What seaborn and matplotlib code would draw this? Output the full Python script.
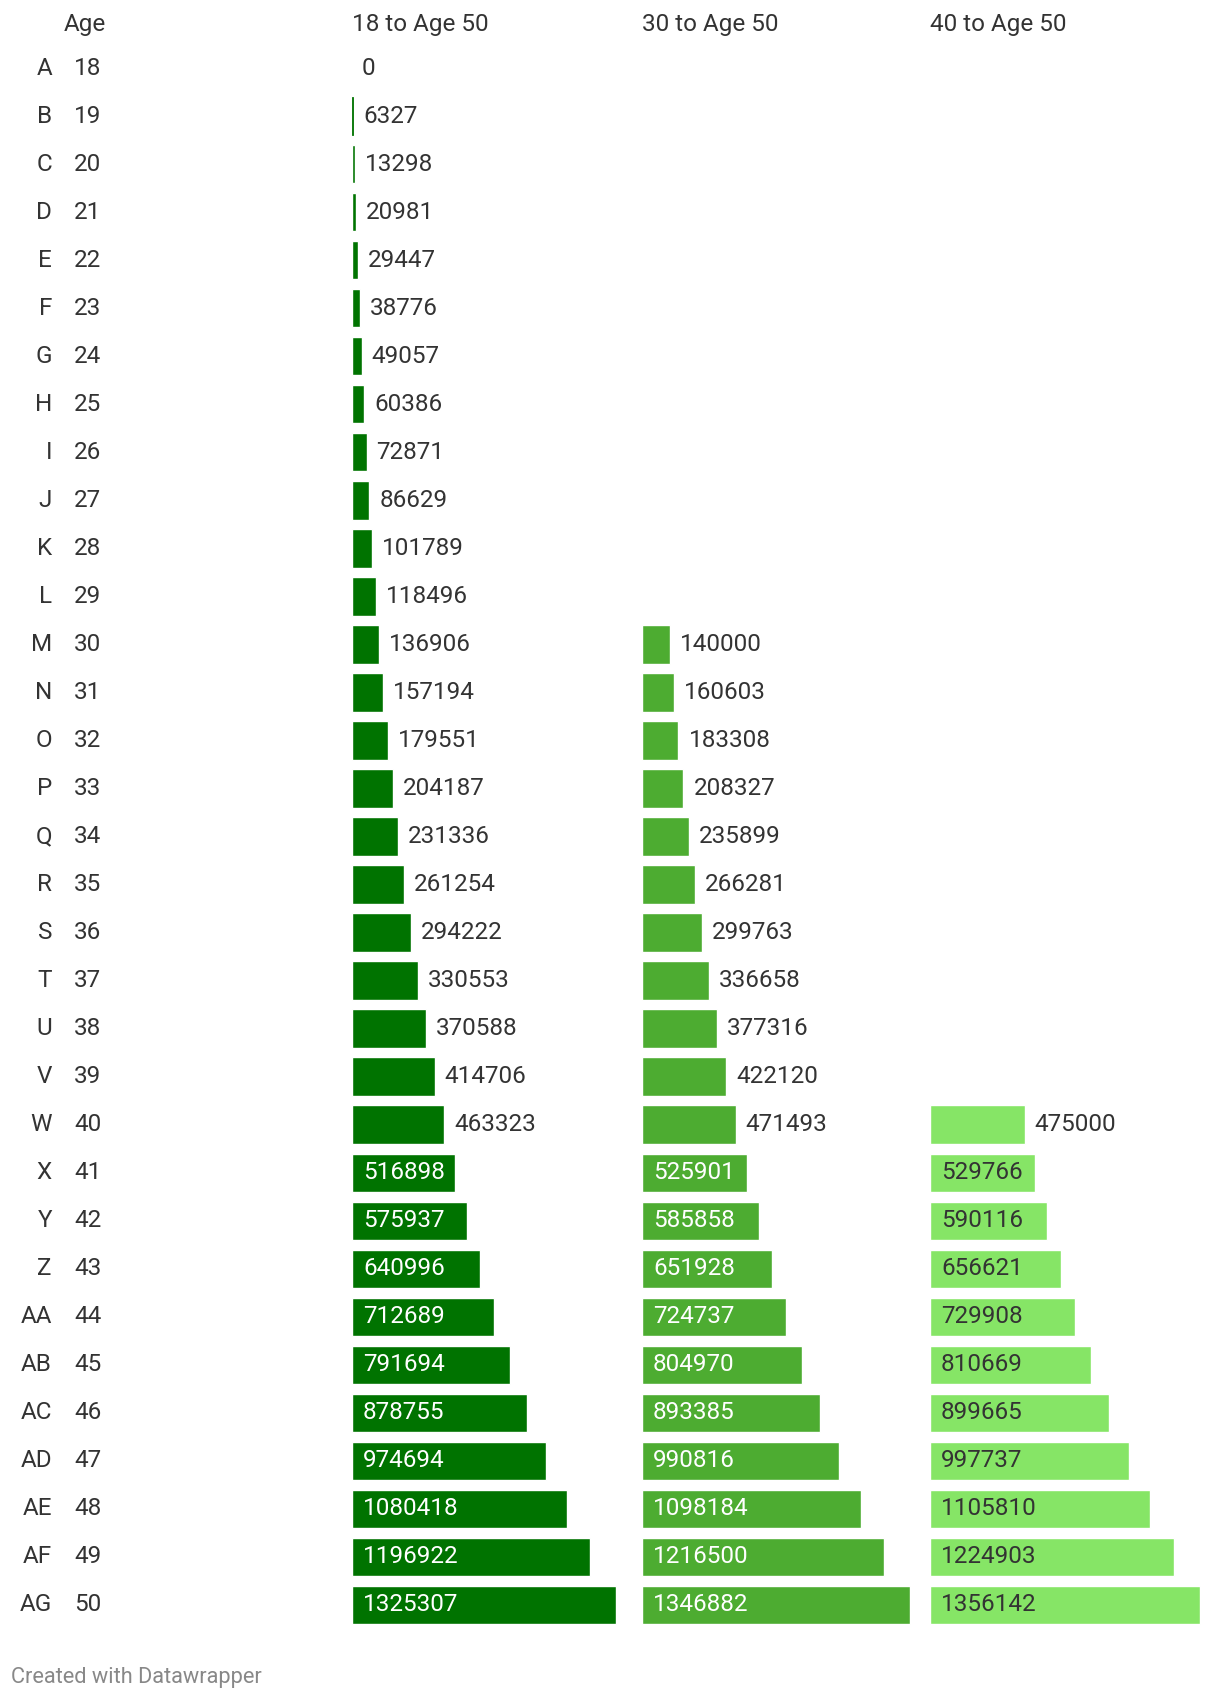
import numpy as np
import pandas as pd
import matplotlib as mpl
import matplotlib.pyplot as plt
import matplotlib.transforms as mtransforms
import seaborn as sns

#%% Data
letters = ['A', 'B', 'C', 'D', 'E', 'F', 'G', 'H', 'I', 'J', 'K', 'L', 'M', 'N', 'O', 'P',
           'Q', 'R', 'S', 'T', 'U', 'V', 'W', 'X', 'Y', 'Z', 'AA', 'AB', 'AC', 'AD', 'AE', 'AF', 'AG']
ages = list(range(18, 51))

from_18 = [0, 6327, 13298, 20981, 29447, 38776, 49057, 60386, 72871, 86629, 101789, 118496,
           136906, 157194, 179551, 204187, 231336, 261254, 294222, 330553, 370588, 414706,
           463323, 516898, 575937, 640996, 712689, 791694, 878755, 974694, 1080418, 1196922, 1325307]
from_30 = [140000, 160603, 183308, 208327, 235899, 266281, 299763, 336658, 377316, 422120,
           471493, 525901, 585858, 651928, 724737, 804970, 893385, 990816, 1098184, 1216500, 1346882]
from_40 = [475000, 529766, 590116, 656621, 729908, 810669, 899665, 997737, 1105810, 1224903, 1356142]

headers = ['18 to Age 50', '30 to Age 50', '40 to Age 50']
colors = ['#007300', '#4dac31', '#86e566']
inside_text = ['white', 'white', '#333333']

data = pd.DataFrame({'letter': letters, 'age': ages})
data['from_18'] = from_18
data['from_30'] = [np.nan] * (len(ages) - len(from_30)) + from_30
data['from_40'] = [np.nan] * (len(ages) - len(from_40)) + from_40

#%% Plot
sns.set_style('white')
plt.rcParams['font.family'] = ['Roboto', 'DejaVu Sans']
W, H = 1220, 1700
fs = 17.5
fig = plt.figure(figsize=(W / 100, H / 100), dpi=100)

col_x = [352, 642, 930]
ax_w = 280
px_per_unit = 1.99e-4
top_px, bottom_px = 44, 1629

axes = []
for i, col in enumerate(['from_18', 'from_30', 'from_40']):
    ax = fig.add_axes([col_x[i] / W, 1 - bottom_px / H, ax_w / W, (bottom_px - top_px) / H])
    sns.barplot(data=data, x=col, y='letter', order=letters, orient='h',
                color=colors[i], saturation=1, width=0.8, ax=ax)
    ax.set_xlim(0, ax_w / px_per_unit)
    ax.set_ylim(len(letters) - 0.5, -0.5)
    ax.axis('off')
    # very thin bars still show as a hairline
    for p, v in zip(ax.patches, data[col].dropna()):
        if 0 < v < 10000:
            p.set_edgecolor(colors[i])
            p.set_linewidth(0.6)
    for j, v in enumerate(data[col]):
        if np.isnan(v):
            continue
        if v > 500000:
            ax.annotate(str(int(v)), (0, j), xytext=(11, 0), textcoords='offset pixels',
                        va='center', ha='left', fontsize=fs, color=inside_text[i])
        else:
            ax.annotate(str(int(v)), (v, j), xytext=(10, 0), textcoords='offset pixels',
                        va='center', ha='left', fontsize=fs, color='#333333')
    fig.text(col_x[i] / W, 1 - 24 / H, headers[i], fontsize=fs, color='#333333',
             va='center', ha='left')
    axes.append(ax)

# row labels
trans = mtransforms.blended_transform_factory(fig.transFigure, axes[0].transData)
for j in range(len(letters)):
    fig.text(52 / W, j, letters[j], transform=trans, ha='right', va='center',
             fontsize=fs, color='#333333')
    fig.text(74 / W, j, str(ages[j]), transform=trans, ha='left', va='center',
             fontsize=fs, color='#333333')
fig.text(64 / W, 1 - 24 / H, 'Age', fontsize=fs, color='#333333', va='center', ha='left')

fig.text(11 / W, 1 - 1678 / H, 'Created with Datawrapper', fontsize=15.7, color='#888888',
         va='center', ha='left')

plt.savefig('out.png', dpi=100, facecolor='white')
